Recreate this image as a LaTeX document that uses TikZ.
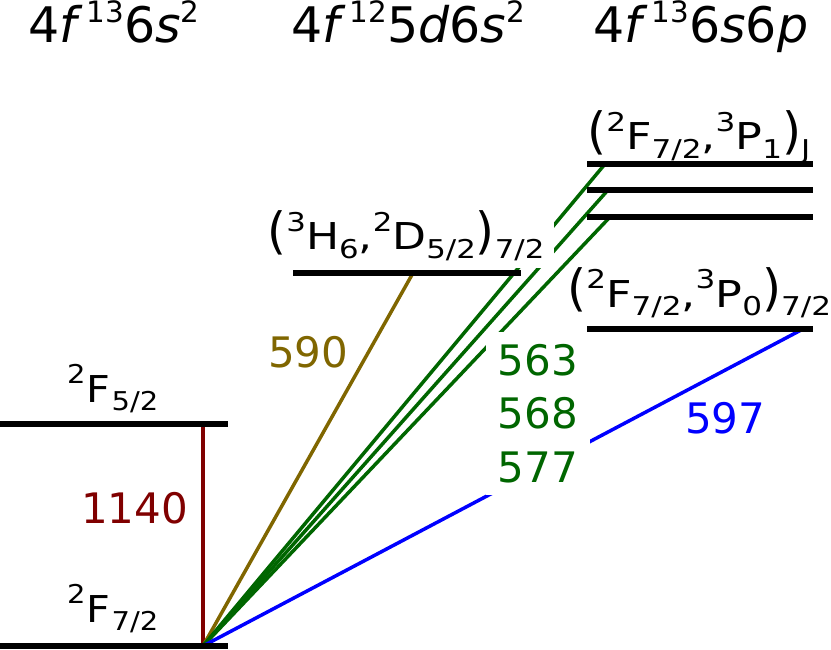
\documentclass[tikz,border=0pt]{standalone}
\usepackage{fontspec}
\setmainfont{DejaVu Sans}
\usepackage{graphicx}
\definecolor{cred}{RGB}{128,0,0}
\definecolor{colive}{RGB}{128,102,0}
\definecolor{cgreen}{RGB}{0,102,0}
\definecolor{cblue}{RGB}{0,0,255}
\newcommand{\up}[1]{\raisebox{0.5em}{\scalebox{0.7}{#1}}}
\newcommand{\dn}[1]{\raisebox{-0.22em}{\scalebox{0.7}{#1}}}
\newcommand{\hup}[1]{\raisebox{0.42em}{\scalebox{0.6}{#1}}}
\newcommand{\wide}[2]{\scalebox{#1}[1]{#2}}
\newcommand{\lp}{\raisebox{1.5pt}{\scalebox{1.1}[1.35]{(}}}
\newcommand{\rp}{\raisebox{1.5pt}{\scalebox{1.1}[1.35]{)}}}
\begin{document}
\begin{tikzpicture}[x=1pt,y=-1pt,
  levelline/.style={line width=6pt},
  trans/.style={line width=3.5pt},
  hdr/.style={font=\fontsize{49}{52}\selectfont, inner sep=0pt, anchor=base west},
  lab/.style={font=\fontsize{37}{40}\selectfont, inner sep=0pt, anchor=base west},
  num/.style={font=\fontsize{42}{45}\selectfont, inner sep=0pt, anchor=base west}]
\useasboundingbox (0,0) rectangle (831,650);

% level end points
\coordinate (A1) at (0,646);   \coordinate (A2) at (228,646);
\coordinate (B1) at (0,424);   \coordinate (B2) at (228,424);
\coordinate (C1) at (293,273); \coordinate (C2) at (521,273);
\coordinate (D1) at (587,164); \coordinate (D2) at (813,164);
\coordinate (E1) at (587,190); \coordinate (E2) at (813,190);
\coordinate (F1) at (587,217); \coordinate (F2) at (813,217);
\coordinate (G1) at (587,329); \coordinate (G2) at (813,329);
% transition end points
\coordinate (g0) at (203,646);
\coordinate (g1) at (203,424);
\coordinate (c) at (413,273);
\coordinate (d) at (605,164);
\coordinate (e) at (608,190);
\coordinate (f) at (610,217);
\coordinate (p) at (803,329);

% transitions
\draw[trans,cred] (g0) -- (g1);
\draw[trans,colive] (g0) -- (c);
\draw[trans,cgreen] (g0) -- (d);
\draw[trans,cgreen] (g0) -- (e);
\draw[trans,cgreen] (g0) -- (f);
\draw[trans,cblue] (g0) -- (p);

% headers
\node[hdr] (h1) at (28,43) {4\textit{f}\kern4pt\hup{13}6\textit{s}\hup{2}};
\node[hdr] (h2) at (291,43) {4\textit{f}\kern4pt\hup{12}5\textit{d}6\textit{s}\hup{2}};
\node[hdr] (h3) at (593,43) {4\textit{f}\kern4pt\hup{13}6\textit{s}6\textit{p}};

% level labels
\node[lab] (l1) at (67,402) {\wide{1.12}{\up{2}\kern1ptF\kern1pt\dn{5/2}}};
\node[lab] (l2) at (67,622) {\wide{1.12}{\up{2}\kern1ptF\kern1pt\dn{7/2}}};
\node[lab,anchor=base,fill=white,inner xsep=10pt,inner ysep=7pt] (l3) at (406,250)
  {\wide{1.19}{\lp\up{3}H\dn{6},\up{2}D\dn{5/2}\rp\dn{7/2}}};
\node[lab] (l4) at (587,150) {\wide{1.2}{\lp\up{2}F\dn{7/2},\up{3}P\dn{1}\rp\dn{J}}};
\node[lab] (l5) at (567,307) {\wide{1.2}{\lp\up{2}F\dn{7/2},\up{3}P\dn{0}\rp\dn{7/2}}};

% transition labels
\node[num,text=cred] (n1) at (81,523) {1140};
\node[num,text=colive] (n2) at (268,367) {590};
\node[num,text=cblue] (n3) at (685,433) {597};
\node[font=\fontsize{42}{53.5}\selectfont, text=cgreen, fill=white, inner sep=12pt,
  align=left, anchor=center] (n4) at (538,413.5) {563\\568\\577};

% levels
\draw[levelline] (A1) -- (A2);
\draw[levelline] (B1) -- (B2);
\draw[levelline] (C1) -- (C2);
\draw[levelline] (D1) -- (D2);
\draw[levelline] (E1) -- (E2);
\draw[levelline] (F1) -- (F2);
\draw[levelline] (G1) -- (G2);
\end{tikzpicture}
\end{document}
